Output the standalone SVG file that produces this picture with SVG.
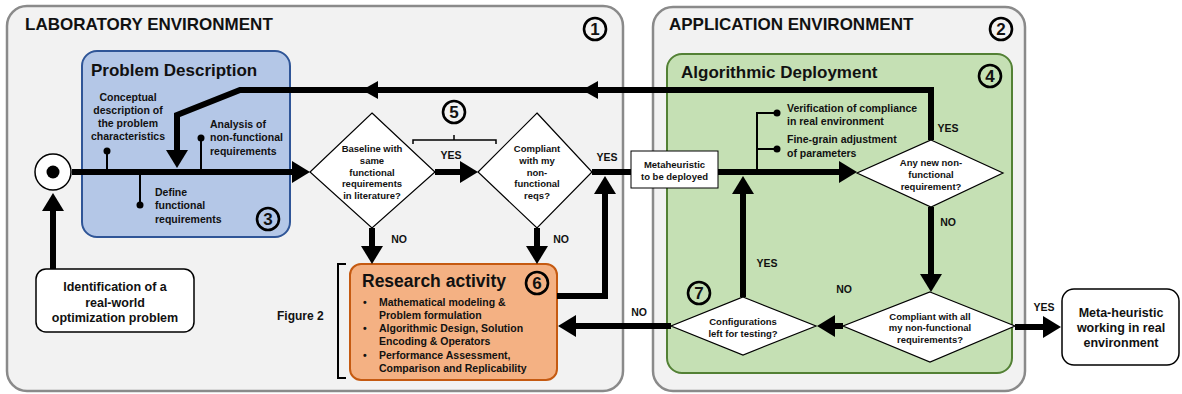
<svg xmlns="http://www.w3.org/2000/svg" width="1182" height="394" viewBox="0 0 1182 394">
<defs>
<style>
text{font-family:"Liberation Sans",Arial,sans-serif;font-weight:bold;fill:#111}
.env{fill:#f2f2f2;stroke:#8a8a8a;stroke-width:2.5}
.h1{font-size:17px}
.sm{font-size:10.5px}
.dt{font-size:9.5px;text-anchor:middle}
.md{font-size:12.5px;text-anchor:middle}
.lbl{font-size:10.5px;text-anchor:middle}
.num{font-size:17px;text-anchor:middle}
.nc{fill:none;stroke:#000;stroke-width:2.6}
.dia{fill:#fff;stroke:#000;stroke-width:1.2}
.box{fill:#fff;stroke:#000;stroke-width:1.5}
.thick{fill:none;stroke:#000;stroke-width:6;stroke-linejoin:miter}
.thin{fill:none;stroke:#000;stroke-width:2}
.dot{fill:#000}
</style>
<marker id="ah" viewBox="0 0 18 22" refX="1" refY="11" markerWidth="18" markerHeight="22" markerUnits="userSpaceOnUse" orient="auto">
<polygon points="0,0 18,11 0,22" fill="#000"/>
</marker>
</defs>
<rect width="1182" height="394" fill="#fff"/>

<g id="lab-env">
<rect class="env" x="7" y="6" width="616" height="385" rx="20"/>
<text class="h1" x="25" y="30">LABORATORY ENVIRONMENT</text>
<circle class="nc" cx="595" cy="29" r="11"/><text class="num" x="595" y="35">1</text>
</g>

<g id="app-env">
<rect class="env" x="653" y="7" width="372" height="384" rx="20"/>
<text class="h1" x="669" y="30">APPLICATION ENVIRONMENT</text>
<circle class="nc" cx="1001" cy="29" r="11"/><text class="num" x="1001" y="35">2</text>
</g>

<g id="problem-description">
<rect x="82" y="51" width="208" height="186" rx="15" fill="#b4c7e7" stroke="#2f5597" stroke-width="2"/>
<text class="h1" x="91" y="76">Problem Description</text>
<text class="sm" text-anchor="middle"><tspan x="128" y="101">Conceptual</tspan><tspan x="128" y="114">description of</tspan><tspan x="128" y="127">the problem</tspan><tspan x="128" y="140">characteristics</tspan></text>
<text class="sm"><tspan x="210" y="128">Analysis of</tspan><tspan x="210" y="141">non-functional</tspan><tspan x="210" y="155">requirements</tspan></text>
<text class="sm"><tspan x="155" y="196">Define</tspan><tspan x="155" y="209">functional</tspan><tspan x="155" y="223">requirements</tspan></text>
<circle class="nc" cx="268" cy="219" r="11"/><text class="num" x="268" y="225">3</text>
</g>

<g id="algorithmic-deployment">
<rect x="667" y="54" width="345" height="319" rx="15" fill="#c5e0b4" stroke="#538135" stroke-width="2"/>
<text class="h1" x="681" y="78">Algorithmic Deployment</text>
<circle class="nc" cx="990" cy="76" r="11"/><text class="num" x="990" y="82">4</text>
<text class="sm"><tspan x="787" y="112">Verification of compliance</tspan><tspan x="787" y="125">in real environment</tspan></text>
<text class="sm"><tspan x="787" y="143">Fine-grain adjustment</tspan><tspan x="787" y="157">of parameters</tspan></text>
</g>

<g id="research-activity">
<rect x="350" y="264" width="207" height="116" rx="11" fill="#f4b183" stroke="#c55a11" stroke-width="2"/>
<text x="362" y="287" font-size="17.5px">Research activity</text>
<circle class="nc" cx="537" cy="283" r="11"/><text class="num" x="537" y="289">6</text>
<text class="sm"><tspan x="363" y="306">•</tspan><tspan x="363" y="332">•</tspan><tspan x="363" y="359">•</tspan></text>
<text class="sm"><tspan x="379" y="306">Mathematical modeling &amp;</tspan><tspan x="379" y="319">Problem formulation</tspan><tspan x="379" y="332">Algorithmic Design, Solution</tspan><tspan x="379" y="345">Encoding &amp; Operators</tspan><tspan x="379" y="359">Performance Assessment,</tspan><tspan x="379" y="372">Comparison and Replicability</tspan></text>
</g>

<g id="figure2-bracket">
<path class="thin" d="M346,264 H338 V378 H346"/>
<text x="277" y="320" font-size="12px">Figure 2</text>
</g>

<g id="start">
<circle cx="53" cy="172" r="18" fill="#fff" stroke="#000" stroke-width="1.5"/>
<circle cx="53" cy="172" r="6.5" fill="#000"/>
</g>

<g id="identification">
<rect class="box" x="36" y="269" width="158" height="63" rx="10"/>
<text class="md"><tspan x="115" y="290.5">Identification of a</tspan><tspan x="115" y="306.5">real-world</tspan><tspan x="115" y="321.5">optimization problem</tspan></text>
</g>

<g id="baseline-decision">
<polygon class="dia" points="372,113 435,172 372,228 310,172"/>
<text class="dt"><tspan x="372" y="152">Baseline with</tspan><tspan x="372" y="164">same</tspan><tspan x="372" y="176">functional</tspan><tspan x="372" y="187">requirements</tspan><tspan x="372" y="199">in literature?</tspan></text>
</g>

<g id="compliant-decision">
<polygon class="dia" points="537,113 592,172 537,228 478,172"/>
<text class="dt"><tspan x="537" y="152">Compliant</tspan><tspan x="537" y="164">with my</tspan><tspan x="537" y="176">non-</tspan><tspan x="537" y="187">functional</tspan><tspan x="537" y="199">reqs?</tspan></text>
</g>

<g id="step5">
<path fill="none" stroke="#000" stroke-width="1.5" d="M413,144 V140 H496 V144 M454,140 V135"/>
<circle class="nc" cx="454" cy="112" r="11"/><text class="num" x="454" y="118">5</text>
</g>

<g id="metaheuristic-box">
<rect x="631" y="151" width="87" height="37" fill="#fff" stroke="#000" stroke-width="1"/>
<text class="dt"><tspan x="674.5" y="168">Metaheuristic</tspan><tspan x="674.5" y="180">to be deployed</tspan></text>
</g>

<g id="new-req-decision">
<polygon class="dia" points="931,140 1003,173 931,207 857,173"/>
<text class="dt"><tspan x="931" y="166">Any new non-</tspan><tspan x="931" y="178">functional</tspan><tspan x="931" y="190">requirement?</tspan></text>
</g>

<g id="compliant-all-decision">
<polygon class="dia" points="930,292 1015,326 930,362 843,326"/>
<text class="dt" font-size="10px"><tspan x="930" y="319.5">Compliant with all</tspan><tspan x="930" y="331">my non-functional</tspan><tspan x="930" y="342.5">requirements?</tspan></text>
</g>

<g id="configurations-decision">
<polygon class="dia" points="743,297 816,326 743,355 671,326"/>
<text class="dt"><tspan x="743" y="324.5">Configurations</tspan><tspan x="743" y="336.5">left for testing?</tspan></text>
<circle class="nc" cx="699" cy="293" r="11"/><text class="num" x="699" y="299">7</text>
</g>

<g id="meta-working">
<rect class="box" x="1062" y="289" width="117" height="76" rx="12"/>
<text class="md" font-size="13px"><tspan x="1121" y="316.5">Meta-heuristic</tspan><tspan x="1121" y="332">working in real</tspan><tspan x="1121" y="347">environment</tspan></text>
</g>

<g id="connectors">
<path class="thick" d="M72,172 H293" marker-end="url(#ah)"/>
<path class="thick" d="M53,269 V210" marker-end="url(#ah)"/>
<path class="thick" d="M931,140 V90 H240 L177,115 V151" marker-end="url(#ah)"/>
<polygon points="582,90 598,81 598,99" fill="#000"/>
<polygon points="362,90 378,81 378,99" fill="#000"/>
<path class="thick" d="M435,172 H461" marker-end="url(#ah)"/>
<path class="thick" d="M372,228 V247" marker-end="url(#ah)"/>
<path class="thick" d="M537,228 V247" marker-end="url(#ah)"/>
<path class="thick" d="M592,172 H631"/>
<path class="thick" d="M557,296 H605 V193" marker-end="url(#ah)"/>
<path class="thick" d="M718,172 H840" marker-end="url(#ah)"/>
<path class="thick" d="M743,297 V193" marker-end="url(#ah)"/>
<path class="thick" d="M931,207 V275" marker-end="url(#ah)"/>
<path class="thick" d="M843,326 H834" marker-end="url(#ah)"/>
<path class="thick" d="M671,326 H575" marker-end="url(#ah)"/>
<path class="thick" d="M1015,327 H1044" marker-end="url(#ah)"/>
<path class="thin" d="M107,172 V151 M201,172 V138 M140,172 V205 M757,172 V113 H777 M757,149 H777"/>
<circle class="dot" cx="107" cy="151" r="3.5"/>
<circle class="dot" cx="201" cy="138" r="3.5"/>
<circle class="dot" cx="140" cy="205" r="3.5"/>
<circle class="dot" cx="777" cy="113" r="3.5"/>
<circle class="dot" cx="777" cy="149" r="3.5"/>
<text class="lbl" x="451" y="159">YES</text>
<text class="lbl" x="399" y="243">NO</text>
<text class="lbl" x="561" y="243">NO</text>
<text class="lbl" x="607" y="161">YES</text>
<text class="lbl" x="948" y="132">YES</text>
<text class="lbl" x="948" y="226">NO</text>
<text class="lbl" x="767" y="267">YES</text>
<text class="lbl" x="844" y="293">NO</text>
<text class="lbl" x="639" y="316">NO</text>
<text class="lbl" x="1044" y="311">YES</text>
</g>
</svg>
